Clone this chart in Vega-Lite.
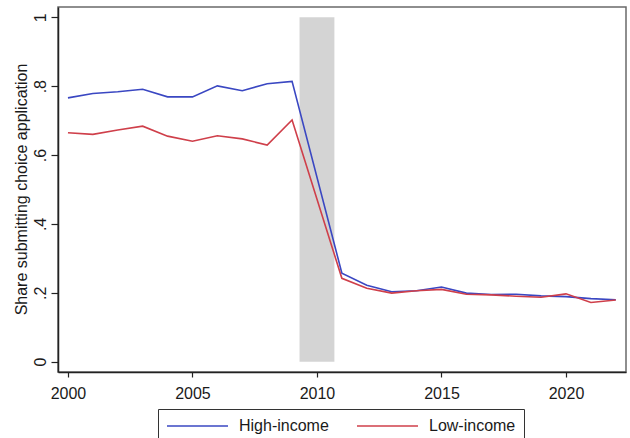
{
  "$schema": "https://vega.github.io/schema/vega-lite/v6.json",
  "autosize": "none",
  "width": 568,
  "height": 365,
  "padding": {"left": 58, "top": 7, "right": 4, "bottom": 66},
  "background": "white",
  "config": {
    "font": "Liberation Sans",
    "view": {"stroke": "#6a6a6a", "strokeWidth": 1.5},
    "axis": {
      "grid": false,
      "domainColor": "#222222",
      "domainWidth": 1.5,
      "tickColor": "#222222",
      "tickWidth": 1.2,
      "labelFont": "Liberation Sans",
      "labelFontSize": 16,
      "labelColor": "#1a1a1a",
      "titleFont": "Liberation Sans",
      "titleFontSize": 16,
      "titleFontWeight": "normal",
      "titleColor": "#1a1a1a"
    }
  },
  "datasets": {
    "band": [{"start": 2009.3, "end": 2010.7, "lo": 0, "hi": 1}],
    "shares": [
      {"year": 2000, "group": "High-income", "share": 0.766},
      {"year": 2001, "group": "High-income", "share": 0.779},
      {"year": 2002, "group": "High-income", "share": 0.784},
      {"year": 2003, "group": "High-income", "share": 0.791},
      {"year": 2004, "group": "High-income", "share": 0.769},
      {"year": 2005, "group": "High-income", "share": 0.769},
      {"year": 2006, "group": "High-income", "share": 0.801},
      {"year": 2007, "group": "High-income", "share": 0.787},
      {"year": 2008, "group": "High-income", "share": 0.807},
      {"year": 2009, "group": "High-income", "share": 0.814},
      {"year": 2011, "group": "High-income", "share": 0.257},
      {"year": 2012, "group": "High-income", "share": 0.222},
      {"year": 2013, "group": "High-income", "share": 0.203},
      {"year": 2014, "group": "High-income", "share": 0.206},
      {"year": 2015, "group": "High-income", "share": 0.217},
      {"year": 2016, "group": "High-income", "share": 0.199},
      {"year": 2017, "group": "High-income", "share": 0.195},
      {"year": 2018, "group": "High-income", "share": 0.196},
      {"year": 2019, "group": "High-income", "share": 0.191},
      {"year": 2020, "group": "High-income", "share": 0.189},
      {"year": 2021, "group": "High-income", "share": 0.183},
      {"year": 2022, "group": "High-income", "share": 0.180},
      {"year": 2000, "group": "Low-income", "share": 0.665},
      {"year": 2001, "group": "Low-income", "share": 0.660},
      {"year": 2002, "group": "Low-income", "share": 0.673},
      {"year": 2003, "group": "Low-income", "share": 0.684},
      {"year": 2004, "group": "Low-income", "share": 0.655},
      {"year": 2005, "group": "Low-income", "share": 0.640},
      {"year": 2006, "group": "Low-income", "share": 0.656},
      {"year": 2007, "group": "Low-income", "share": 0.647},
      {"year": 2008, "group": "Low-income", "share": 0.629},
      {"year": 2009, "group": "Low-income", "share": 0.702},
      {"year": 2011, "group": "Low-income", "share": 0.242},
      {"year": 2012, "group": "Low-income", "share": 0.213},
      {"year": 2013, "group": "Low-income", "share": 0.199},
      {"year": 2014, "group": "Low-income", "share": 0.206},
      {"year": 2015, "group": "Low-income", "share": 0.210},
      {"year": 2016, "group": "Low-income", "share": 0.196},
      {"year": 2017, "group": "Low-income", "share": 0.194},
      {"year": 2018, "group": "Low-income", "share": 0.190},
      {"year": 2019, "group": "Low-income", "share": 0.187},
      {"year": 2020, "group": "Low-income", "share": 0.197},
      {"year": 2021, "group": "Low-income", "share": 0.172},
      {"year": 2022, "group": "Low-income", "share": 0.179}
    ]
  },
  "layer": [
    {
      "data": {"name": "band"},
      "mark": {"type": "rect", "color": "#d4d4d4"},
      "encoding": {
        "x": {"field": "start", "type": "quantitative", "scale": {"domain": [1999.6, 2022.41], "nice": false, "zero": false}},
        "x2": {"field": "end"},
        "y": {"field": "lo", "type": "quantitative", "scale": {"domain": [-0.03, 1.03], "nice": false}},
        "y2": {"field": "hi"}
      }
    },
    {
      "data": {"name": "shares"},
      "mark": {"type": "line", "strokeWidth": 1.6},
      "encoding": {
        "x": {
          "field": "year",
          "type": "quantitative",
          "axis": {
            "values": [2000, 2005, 2010, 2015, 2020],
            "format": "d",
            "tickSize": 5,
            "labelPadding": 8,
            "title": null
          }
        },
        "y": {
          "field": "share",
          "type": "quantitative",
          "axis": {
            "values": [0, 0.2, 0.4, 0.6, 0.8, 1],
            "labelExpr": "datum.value == 0 ? '0' : datum.value == 1 ? '1' : '.' + round(datum.value * 10)",
            "labelAngle": -90,
            "labelAlign": "center",
            "labelBaseline": "alphabetic",
            "tickSize": 7,
            "labelPadding": 6,
            "title": "Share submitting choice application",
            "titleAngle": -90,
            "titleBaseline": "middle",
            "titleAlign": "center",
            "titleX": -37,
            "titleY": 182
          }
        },
        "color": {
          "field": "group",
          "type": "nominal",
          "scale": {"domain": ["High-income", "Low-income"], "range": ["#3a47c2", "#cf3f4a"]},
          "legend": {
            "title": null,
            "orient": "none",
            "direction": "horizontal",
            "legendX": 100,
            "legendY": 402,
            "padding": 8,
            "strokeColor": "#333333",
            "symbolType": "stroke",
            "symbolSize": 3721,
            "symbolStrokeWidth": 1.5,
            "clipHeight": 18,
            "labelFont": "Liberation Sans",
            "labelFontSize": 16,
            "labelColor": "#1a1a1a",
            "labelOffset": 10,
            "columnPadding": 27
          }
        }
      }
    }
  ]
}
